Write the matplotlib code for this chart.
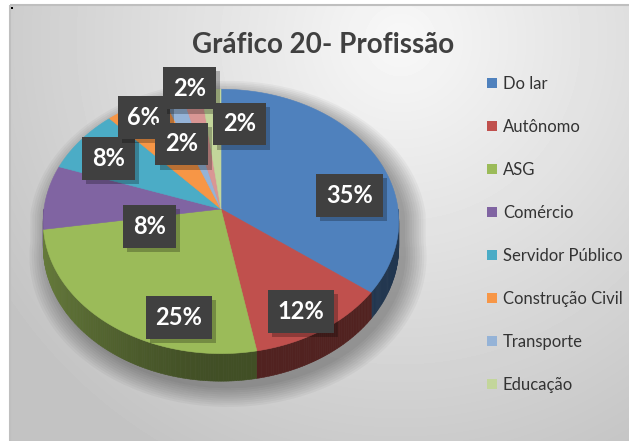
import numpy as np
import matplotlib.pyplot as plt
from matplotlib.patches import Polygon, Rectangle
from matplotlib import patheffects

categories = ['Do lar', 'Autônomo', 'ASG', 'Comércio', 'Servidor Público',
              'Construção Civil', 'Transporte', '', 'Educação']
counts = [18, 6, 13, 4, 4, 3, 1, 1, 1]
colors = ['#4F81BD', '#C0504D', '#9BBB59', '#8064A2', '#4BACC6',
          '#F79646', '#95B3D7', '#D99694', '#C3D69B']
# label box spots on the pie disk: angle (deg) and fraction of radius
label_ang = [8, -60, -106, 198, 149, 122, 114, 101, 81]
label_rad = [0.74, 0.84, 0.80, 0.42, 0.77, 0.88, 0.57, 1.03, 0.70]

W, H = 629, 441
cx, cy = 221, 209      # pie centre (pixels)
rx, ry = 177, 131      # radii of the tilted disk
k = 0.094              # perspective
depth = 25


def proj(theta, r=1.0, down=0.0):
    x = r * np.cos(theta)
    y = r * np.sin(theta)
    s = 1 / (1 + k * y)
    return cx + rx * x * s, cy - ry * y * s + down * s


fig = plt.figure(figsize=(W / 100, H / 100), dpi=100)
ax = fig.add_axes([0, 0, 1, 1])

# background
yy, xx = np.mgrid[0:H, 0:W]
d = np.hypot(xx - 400, yy - 40)
bg = 248 - 52 * np.clip(d / 470, 0, 1)
bg[:, :10] = 255
bg[:5, :] = 255
ax.imshow(bg, extent=(0, W, H, 0), cmap='gray', vmin=0, vmax=255, zorder=0)
ax.add_patch(Rectangle((10, 5), W, H, fill=False, ec='#bfbfbf', lw=1.5, zorder=1))
ax.add_patch(Rectangle((11, 7), 2, 2, fc='black', ec='none', zorder=1))

total = sum(counts)
cum = np.concatenate([[0], np.cumsum(counts) / total])
starts = np.radians(90 - 360 * cum[:-1])
ends = np.radians(90 - 360 * cum[1:])

# soft shadow
t1 = np.linspace(0, np.pi, 120)
t2 = np.linspace(np.pi, 2 * np.pi, 120)
ox = np.concatenate([proj(t1)[0], proj(t2, down=depth)[0]])
oy = np.concatenate([proj(t1)[1], proj(t2, down=depth)[1]])
for i in range(10):
    sc = 1 + 0.013 * i
    pts = np.column_stack([cx + (ox - cx) * sc + 7, cy + 12 + (oy - cy - 12) * sc + 7])
    ax.add_patch(Polygon(pts, fc='black', ec='none', alpha=0.035, zorder=2))

# side wall, back to front
segs = np.linspace(0, -np.pi, 241)
order = []
for a0, a1 in zip(segs[:-1], segs[1:]):
    mid = (a0 + a1) / 2
    frac = ((np.pi / 2 - mid) % (2 * np.pi)) / (2 * np.pi)
    idx = min(np.searchsorted(cum, frac, side='right') - 1, len(counts) - 1)
    order.append((np.sin(mid), a0, a1, idx, mid))
order.sort(key=lambda o: -o[0])
for _, a0, a1, idx, mid in order:
    f = 0.42 + 0.24 * max(0.0, -np.cos(mid)) ** 1.5
    base = np.array(plt.matplotlib.colors.to_rgb(colors[idx]))
    col = base * f
    xa, ya = proj(np.array([a0, a1]))
    xb, yb = proj(np.array([a1, a0]), down=depth)
    pts = np.column_stack([np.concatenate([xa, xb]), np.concatenate([ya, yb])])
    ax.add_patch(Polygon(pts, fc=col, ec=col, lw=0.4, zorder=3))

# top faces
for i in range(len(counts)):
    tt = np.linspace(starts[i], ends[i], 80)
    px, py = proj(tt)
    pts = np.column_stack([np.concatenate([[cx], px]), np.concatenate([[cy], py])])
    ax.add_patch(Polygon(pts, fc=colors[i], ec=colors[i], lw=0.4, zorder=4))

# data labels
for i, c in enumerate(counts):
    lx, ly = proj(np.radians(label_ang[i]), label_rad[i])
    t = ax.text(lx, ly, f'{round(100 * c / total)}%', ha='center', va='center',
                fontsize=17, family='Lato', fontweight='bold', color='white', zorder=6,
                bbox=dict(boxstyle='square,pad=0.42', fc='#404040', ec='none'))
    t.get_bbox_patch().set_path_effects([
        patheffects.SimplePatchShadow(offset=(3, -3), shadow_rgbFace='black', alpha=0.25),
        patheffects.Normal()])

ax.text(323, 45, 'Gráfico 20- Profissão', ha='center', va='center', fontsize=20,
        fontweight='bold', color='#404040', family='Lato', zorder=6)

handles = [Rectangle((0, 0), 1, 1, fc=colors[i]) for i in range(len(counts)) if categories[i]]
names = [n for n in categories if n]
ax.legend(handles, names, loc='upper left', bbox_to_anchor=(487 / W, 1 - 76 / H),
          frameon=False, handlelength=0.6, handleheight=0.6, handletextpad=0.35,
          labelspacing=1.62, prop=dict(family='Lato', size=12), labelcolor='#333333',
          borderpad=0, borderaxespad=0)

ax.set_xlim(0, W)
ax.set_ylim(H, 0)
ax.set_aspect('auto')
ax.axis('off')
plt.savefig('out.png', dpi=100)
